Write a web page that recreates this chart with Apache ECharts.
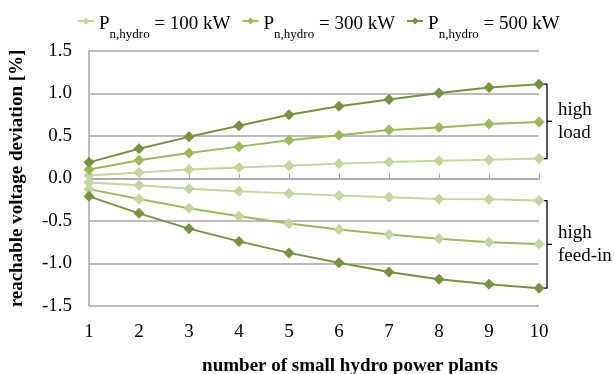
<!DOCTYPE html>
<html>
<head>
<meta charset="utf-8">
<script src="https://cdn.jsdelivr.net/npm/echarts@6/dist/echarts.min.js"></script>
<style>
  html, body { margin: 0; padding: 0; background: #fff; }
</style>
</head>
<body>
<div id="main" style="width: 614px;height:374px;"></div>
<script>
// number of plants
const plants = ['1', '2', '3', '4', '5', '6', '7', '8', '9', '10']
// high load (positive deviation)
const load100 = [0.035, 0.07, 0.105, 0.13, 0.15, 0.175, 0.195, 0.21, 0.22, 0.235]
const load300 = [0.105, 0.215, 0.30, 0.375, 0.45, 0.51, 0.57, 0.60, 0.64, 0.665]
const load500 = [0.19, 0.35, 0.49, 0.62, 0.75, 0.85, 0.93, 1.005, 1.07, 1.11]
// high feed-in (negative deviation)
const feed100 = [-0.047, -0.08, -0.12, -0.15, -0.175, -0.2, -0.22, -0.24, -0.245, -0.26]
const feed300 = [-0.125, -0.24, -0.35, -0.445, -0.53, -0.60, -0.66, -0.71, -0.75, -0.77]
const feed500 = [-0.21, -0.41, -0.59, -0.74, -0.875, -0.99, -1.10, -1.185, -1.245, -1.29]
const powers = ['100', '300', '500']

const c100 = '#c3d69b'
const c300 = '#9bbb59'
const c500 = '#77933c'
const font = 'Liberation Serif'
const fs = 19

let myChart = echarts.init(document.getElementById('main'))

function line (name, data, color, markerColor) {
  return {
    name: name,
    type: 'line',
    data: data,
    symbol: 'diamond',
    symbolSize: 11,
    lineStyle: { color: color, width: 2 },
    itemStyle: { color: markerColor || color },
    color: color,
    z: 3
  }
}

let option = {
  animation: false,
  textStyle: { fontFamily: font },
  legend: {
    data: powers,
    top: 10,
    left: 72,
    itemWidth: 16,
    itemHeight: 9,
    itemGap: 11,
    formatter: function (name) {
      return '{a|P}{b|n,hydro}{a| = ' + name + ' kW}'
    },
    textStyle: {
      fontFamily: font,
      rich: {
        a: { fontSize: fs, fontFamily: font, color: '#000', lineHeight: 26, verticalAlign: 'bottom' },
        b: { fontSize: 13, fontFamily: font, color: '#000', lineHeight: 16, verticalAlign: 'bottom', padding: [0, 0, -7, 0] }
      }
    }
  },
  grid: {
    left: 87,
    right: 75,
    top: 51,
    bottom: 68
  },
  title: {
    text: 'number of small hydro power plants',
    left: 345,
    top: 352,
    textAlign: 'center',
    textStyle: { fontFamily: font, fontSize: fs, fontWeight: 'bold', color: '#000' }
  },
  xAxis: [{
    type: 'category',
    data: plants,
    boundaryGap: false,
    axisLine: { show: false, onZero: false },
    axisTick: { show: false },
    axisLabel: { color: '#000', fontSize: fs, fontFamily: font, margin: 17 }
  }, {
    type: 'category',
    data: plants,
    boundaryGap: false,
    axisLine: { show: true, onZero: true, lineStyle: { color: '#a6a6a6', width: 1.5 } },
    axisTick: { show: true, length: 5, lineStyle: { color: '#a6a6a6' } },
    axisLabel: { show: false }
  }],
  yAxis: {
    type: 'value',
    min: -1.5,
    max: 1.5,
    interval: 0.5,
    name: 'reachable voltage deviation [%]',
    nameLocation: 'middle',
    nameGap: 62,
    nameTextStyle: { fontFamily: font, fontSize: fs, fontWeight: 'bold', color: '#000' },
    axisLine: { show: true, lineStyle: { color: '#a6a6a6', width: 1.5 } },
    axisTick: { show: false },
    axisLabel: {
      color: '#000',
      fontSize: fs,
      fontFamily: font,
      margin: 17,
      formatter: function (v) { return v.toFixed(1) }
    },
    splitLine: { lineStyle: { color: '#a6a6a6', width: 1.5 } }
  },
  series: [
    line('100', load100, c100),
    line('300', load300, c300),
    line('500', load500, c500),
    line('100', feed100, c100),
    line('300', feed300, c300, c100),
    line('500', feed500, c500)
  ]
}
myChart.setOption(option, true)

// brackets to the right of the last point
function bracket (topVal, bottomVal, label1, label2) {
  let last = plants[plants.length - 1]
  let p1 = myChart.convertToPixel({ xAxisIndex: 0, yAxisIndex: 0 }, [last, topVal])
  let p2 = myChart.convertToPixel({ xAxisIndex: 0, yAxisIndex: 0 }, [last, bottomVal])
  let x = p1[0] + 8
  let mid = (p1[1] + p2[1]) / 2
  return [{
    type: 'polyline',
    shape: { points: [[x - 4, p1[1]], [x, p1[1]], [x, p2[1]], [x - 4, p2[1]]] },
    style: { stroke: '#000', lineWidth: 1.3, fill: null }
  }, {
    type: 'line',
    shape: { x1: x, y1: mid, x2: x + 5, y2: mid },
    style: { stroke: '#000', lineWidth: 1.3 }
  }, {
    type: 'text',
    x: x + 11,
    y: mid - 23,
    style: { text: label1 + '\n' + label2, font: fs + 'px "Liberation Serif"', fill: '#000', lineHeight: 23 }
  }]
}

myChart.setOption({
  graphic: bracket(load500[9], load100[9], 'high', 'load')
    .concat(bracket(feed100[9], feed500[9], 'high', 'feed-in'))
})
</script>
</body>
</html>
